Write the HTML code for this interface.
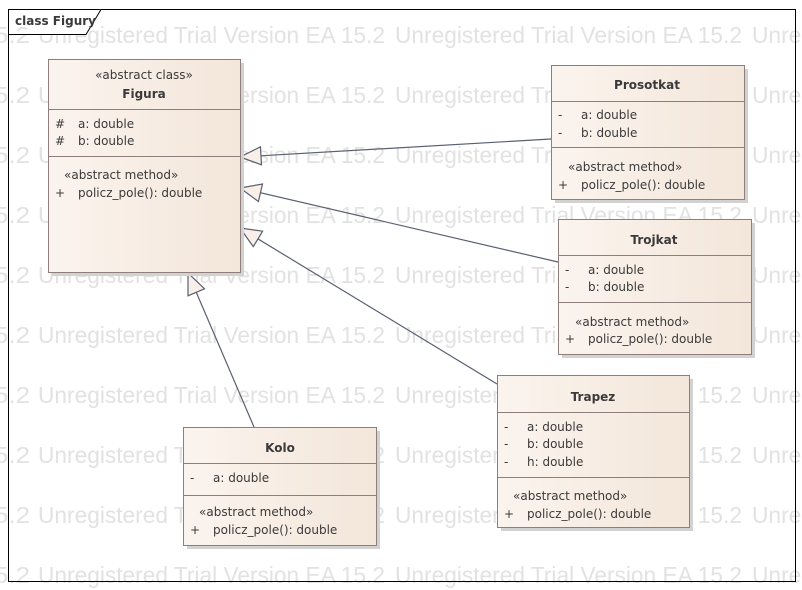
<!DOCTYPE html>
<html><head><meta charset="utf-8"><style>
body{margin:0;background:#fff;width:802px;height:590px;overflow:hidden}
svg{display:block}
.wm{font-family:"Liberation Sans",sans-serif;font-size:23px;fill:#e2e2e2}
.t{font-family:"DejaVu Sans","Liberation Sans",sans-serif;font-size:12px;fill:#3a3a3a}
.b{font-weight:bold}
</style></head><body>
<svg width="802" height="590" viewBox="0 0 802 590" xmlns="http://www.w3.org/2000/svg">
<defs>
<linearGradient id="g" x1="0" x2="1" y1="0" y2="0">
<stop offset="0" stop-color="#fbf4ee"/><stop offset="1" stop-color="#f3e6da"/>
</linearGradient>
<marker id="tri" markerUnits="userSpaceOnUse" markerWidth="24" markerHeight="22" refX="22" refY="10" orient="auto">
<path d="M1,1 L22,10 L1,19 Z" fill="#f7efe8" stroke="#5a6070" stroke-width="1.2"/>
</marker>
<g id="row">
<text x="-6" y="0" class="wm" textLength="36" lengthAdjust="spacingAndGlyphs">5.2</text>
<text x="38" y="0" class="wm" textLength="347" lengthAdjust="spacingAndGlyphs">Unregistered Trial Version EA 15.2</text>
<text x="395" y="0" class="wm" textLength="347" lengthAdjust="spacingAndGlyphs">Unregistered Trial Version EA 15.2</text>
<text x="752" y="0" class="wm" textLength="62" lengthAdjust="spacingAndGlyphs">Unreg</text>
</g>
</defs>

<!-- watermark -->
<use href="#row" y="43"/><use href="#row" y="103"/><use href="#row" y="163"/><use href="#row" y="223"/><use href="#row" y="283"/>
<use href="#row" y="343"/><use href="#row" y="403"/><use href="#row" y="463"/><use href="#row" y="523"/><use href="#row" y="583"/>

<!-- frame -->
<rect x="8.5" y="9.5" width="787" height="572" fill="none" stroke="#000" stroke-width="1"/>
<path d="M8.5,34.5 H86 L101,9.5" fill="#fff" stroke="#000"/>
<text x="15" y="25" class="t b" font-size="12">class Figury</text>

<!-- connectors -->
<g stroke="#5a6070" stroke-width="1.2" fill="none">
<line x1="551" y1="139" x2="240" y2="157" marker-end="url(#tri)"/>
<line x1="558" y1="262" x2="240" y2="188" marker-end="url(#tri)"/>
<line x1="497" y1="384" x2="240" y2="228" marker-end="url(#tri)"/>
<line x1="254" y1="427" x2="188" y2="273" marker-end="url(#tri)"/>
</g>

<!-- boxes -->
<g stroke="#8f7f7c" stroke-width="1" fill="url(#g)">
<rect x="52" y="63" width="192" height="213" fill="#d2d2d2" stroke="none"/>
<rect x="48.5" y="59.5" width="192" height="213"/>
<rect x="555" y="69" width="193" height="134" fill="#d2d2d2" stroke="none"/>
<rect x="551.5" y="65.5" width="193" height="134"/>
<rect x="562" y="223" width="193" height="135" fill="#d2d2d2" stroke="none"/>
<rect x="558.5" y="219.5" width="193" height="135"/>
<rect x="501" y="379" width="192" height="152" fill="#d2d2d2" stroke="none"/>
<rect x="497.5" y="375.5" width="192" height="152"/>
<rect x="187" y="431" width="193" height="118" fill="#d2d2d2" stroke="none"/>
<rect x="183.5" y="427.5" width="193" height="118"/>
</g>
<g stroke="#8f7f7c">
<line x1="48" y1="109.5" x2="240" y2="109.5"/><line x1="48" y1="156.5" x2="240" y2="156.5"/>
<line x1="551" y1="101.5" x2="744" y2="101.5"/><line x1="551" y1="147.5" x2="744" y2="147.5"/>
<line x1="558" y1="255.5" x2="751" y2="255.5"/><line x1="558" y1="302.5" x2="751" y2="302.5"/>
<line x1="497" y1="412.5" x2="689" y2="412.5"/><line x1="497" y1="477.5" x2="689" y2="477.5"/>
<line x1="183" y1="463.5" x2="376" y2="463.5"/><line x1="183" y1="495.5" x2="376" y2="495.5"/>
</g>

<!-- text Figura -->
<text x="144" y="79" class="t" text-anchor="middle">«abstract class»</text>
<text x="144" y="98" class="t b" text-anchor="middle">Figura</text>
<text x="55" y="128" class="t">#</text><text x="78" y="128" class="t">a: double</text>
<text x="55" y="145" class="t">#</text><text x="78" y="145" class="t">b: double</text>
<text x="64" y="179" class="t">«abstract method»</text>
<text x="55" y="197" class="t">+</text><text x="78" y="197" class="t">policz_pole(): double</text>

<!-- Prosotkat -->
<text x="647" y="89" class="t b" text-anchor="middle">Prosotkat</text>
<text x="558" y="119" class="t">-</text><text x="581" y="119" class="t">a: double</text>
<text x="558" y="137" class="t">-</text><text x="581" y="137" class="t">b: double</text>
<text x="568" y="171" class="t">«abstract method»</text>
<text x="558" y="189" class="t">+</text><text x="581" y="189" class="t">policz_pole(): double</text>

<!-- Trojkat -->
<text x="654" y="244" class="t b" text-anchor="middle">Trojkat</text>
<text x="565" y="274" class="t">-</text><text x="588" y="274" class="t">a: double</text>
<text x="565" y="291" class="t">-</text><text x="588" y="291" class="t">b: double</text>
<text x="575" y="326" class="t">«abstract method»</text>
<text x="565" y="343" class="t">+</text><text x="588" y="343" class="t">policz_pole(): double</text>

<!-- Trapez -->
<text x="593" y="401" class="t b" text-anchor="middle">Trapez</text>
<text x="504" y="431" class="t">-</text><text x="527" y="431" class="t">a: double</text>
<text x="504" y="448" class="t">-</text><text x="527" y="448" class="t">b: double</text>
<text x="504" y="466" class="t">-</text><text x="527" y="466" class="t">h: double</text>
<text x="513" y="500" class="t">«abstract method»</text>
<text x="504" y="518" class="t">+</text><text x="527" y="518" class="t">policz_pole(): double</text>

<!-- Kolo -->
<text x="280" y="452" class="t b" text-anchor="middle">Kolo</text>
<text x="190" y="482" class="t">-</text><text x="213" y="482" class="t">a: double</text>
<text x="199" y="516" class="t">«abstract method»</text>
<text x="190" y="534" class="t">+</text><text x="213" y="534" class="t">policz_pole(): double</text>
</svg>
</body></html>
